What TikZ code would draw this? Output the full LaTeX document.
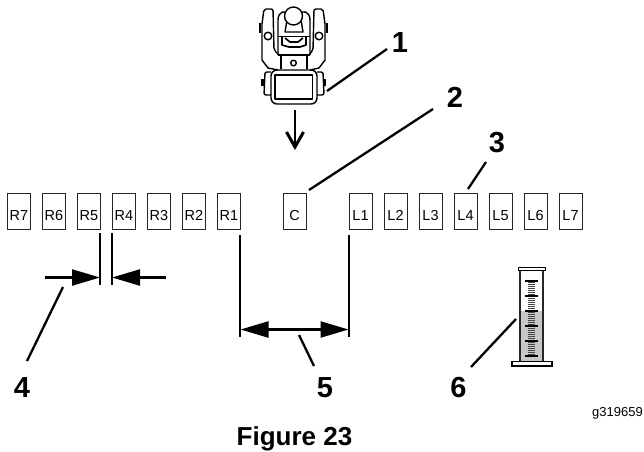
\documentclass[tikz,border=0pt]{standalone}
\usepackage{fontspec}
\setmainfont{Liberation Sans}
\usetikzlibrary{arrows.meta}
\tikzset{
  slot/.style={draw=black!85,line width=0.9pt,minimum width=23pt,minimum height=36pt,inner sep=0pt,text height=18pt,text depth=0pt,font=\fontsize{14.5}{15}\selectfont},
  num/.style={inner sep=0pt,font=\fontsize{29}{30}\bfseries\selectfont},
  lead/.style={line width=2.3pt},
  dim/.style={line width=2.3pt},
  bigtip/.tip={Triangle[length=28pt,width=16pt]},
  mach/.style={line width=1.4pt,line join=round},
}
\begin{document}
\begin{tikzpicture}[x=1pt,y=-1pt]
\useasboundingbox (0,0) rectangle (644,451);
% slots
\foreach \n/\x in {R7/19,R6/54,R5/89,R4/124,R3/159,R2/194,R1/229,C/294.5,L1/360.5,L2/395.5,L3/430.5,L4/465.5,L5/500.5,L6/535.5,L7/570.5}
  \node[slot] (\n) at (\x,211) {\n};
% machine
\begin{scope}[mach]
 % rear tracks
 \draw (262,24) -- (262,60) -- (268,68) -- (278,70);
 \draw (325,24) -- (325,60) -- (319,68) -- (310,70);
 \draw[rounded corners=2pt] (262,24) -- (264,9) -- (273,9) -- (274,50) -- (279,55);
 \draw[rounded corners=2pt] (325,24) -- (323,9) -- (314,9) -- (313,50) -- (309,55);
 \draw (260,23) -- (260,33); \draw (327,23) -- (327,33);
 % operator platform and head
 \draw (278,55) -- (278,20) .. controls (278,11) and (286,10) .. (288,14) -- (285,32) -- (303,32) -- (300,14) .. controls (302,10) and (310,11) .. (310,20) -- (310,55);
 \draw[fill=white] (293.5,16) circle (9);
 \draw (268,36) circle (3.8); \draw (319,36) circle (3.8);
 \draw[line width=1.9pt] (278,36.5) -- (310,36.5);
 \draw[line width=1.7pt] (282,37) -- (282,45) -- (289,47) -- (300,47) -- (306,45) -- (306,37);
 \draw[line width=1.7pt] (285,38) -- (290,42) -- (298,42) -- (303,38);
 \draw (278,55) -- (310,55);
 % column
 \draw (281,55) -- (281,69); \draw (307,55) -- (307,69);
 \draw (293.5,63) circle (2.8);
 % lower body
 \draw[rounded corners=6pt] (271,70) -- (317,70) -- (317,104) -- (271,104) -- cycle;
 \draw[line width=1.6pt] (275,75) rectangle (312.5,99);
 \draw[rounded corners=2pt] (271,72) -- (265,72) -- (264,95) -- (271,95);
 \draw[rounded corners=2pt] (317,72) -- (323,72) -- (324,95) -- (317,95);
 \draw[line width=2.6pt] (262.5,79) -- (262.5,86); \draw[line width=2.6pt] (325,79) -- (325,86);
\end{scope}
% direction arrow
\coordinate (dirA) at (295,110);
\coordinate (dirB) at (295,147);
\coordinate (barbL) at (286.5,132);
\coordinate (barbR) at (303.5,132);
\draw[line width=2.8pt] (dirA) -- (295,145);
\draw[line width=3pt,line join=miter] (barbL) -- (dirB) -- (barbR);
% callouts
\node[num] (n1) at (400,42.5) {1};
\node[num] (n2) at (455,97) {2};
\node[num] (n3) at (497,143) {3};
\node[num] (n4) at (22,388) {4};
\node[num] (n5) at (325,388) {5};
\node[num] (n6) at (458.5,388) {6};
\coordinate (m1) at (327,91);
\coordinate (e1) at (387,49);
\draw[lead] (m1) -- (e1);
\coordinate (s2) at (309,190);
\coordinate (e2) at (433,109);
\draw[lead] (s2) -- (e2);
\coordinate (s3) at (468,189);
\coordinate (e3) at (486,162);
\draw[lead] (s3) -- (e3);
\coordinate (d4a) at (27,361);
\coordinate (d4b) at (63,287);
\draw[lead] (d4a) -- (d4b);
% gap dimension
\coordinate (g1) at (100,233); \coordinate (g1b) at (100,285);
\coordinate (g2) at (112,233); \coordinate (g2b) at (112,285);
\draw[dim] (g1) -- (g1b); \draw[dim] (g2) -- (g2b);
\coordinate (gl) at (45,277.5); \coordinate (gr) at (166,277.5);
\draw[dim,-bigtip] (gl) -- (g1 |- gl);
\draw[dim,-bigtip] (gr) -- (g2 |- gr);
% width dimension
\coordinate (w1) at (240,235); \coordinate (w1b) at (240,337);
\coordinate (w2) at (349,235); \coordinate (w2b) at (349,337);
\draw[dim] (w1) -- (w1b); \draw[dim] (w2) -- (w2b);
\coordinate (wm1) at (240.5,329.5); \coordinate (wm2) at (348.5,329.5);
\draw[dim,bigtip-bigtip] (wm1) -- (wm2);
\coordinate (d5a) at (299,335); \coordinate (d5b) at (314,366);
\draw[lead] (d5a) -- (d5b);
% cylinder
\fill[black!22] (520,311) rectangle (543,361);
\draw[line width=1.2pt,black!85] (520,269) -- (520,361) (543,269) -- (543,361);
\draw[line width=1pt,fill=white] (518,267) rectangle (545,270);
\draw[line width=1.1pt,fill=white] (512,361.5) rectangle (552,366);
\foreach \y in {282,284,...,356} \draw[line width=0.9pt,black!72] (528,\y) -- (535,\y);
\foreach \y in {281,296,311,326,341,356} \draw[line width=1.2pt] (525,\y) -- (538,\y);
\coordinate (d6a) at (471,367); \coordinate (d6b) at (516,319);
\draw[lead] (d6a) -- (d6b);
% texts
\node[inner sep=0pt,anchor=base east,font=\fontsize{13}{14}\selectfont] (gno) at (643,416) {g319659};
\node[inner sep=0pt,anchor=base,font=\fontsize{26}{27}\bfseries\selectfont] (fig) at (294.5,445) {Figure 23};
\end{tikzpicture}
\end{document}
